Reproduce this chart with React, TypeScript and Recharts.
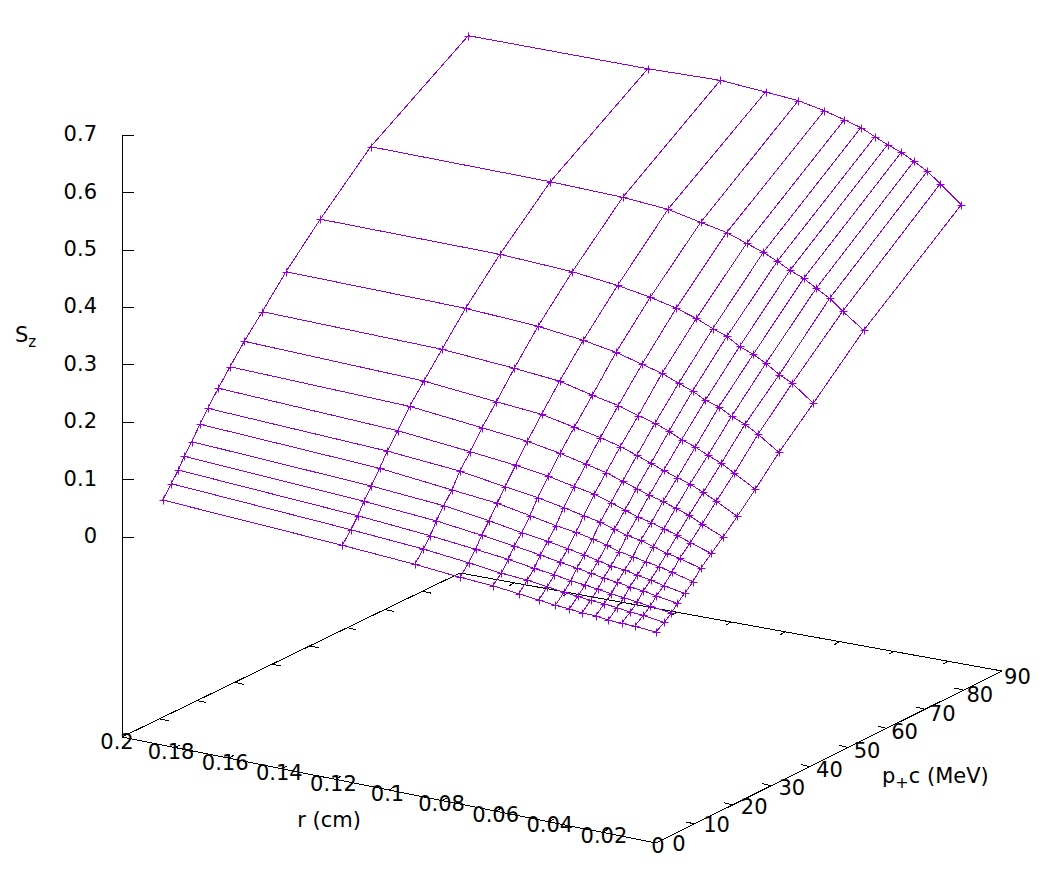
import React from 'react';
import { ScatterChart, Scatter, XAxis, YAxis, ReferenceLine } from 'recharts';

const rValues = [0.18476, 0.11749, 0.09037, 0.07341, 0.06116, 0.05142, 0.04393, 0.03772, 0.03247, 0.02772, 0.02258, 0.01787, 0.01285, 0.00798, 0.00011];
const pValues = [0, 2.24, 4.06, 5.62, 7.54, 9.7, 11.7, 14.46, 17.51, 21.23, 25.91, 32.07, 40.99, 54.1, 79.49];

// one row per entry of pValues, one column per entry of rValues
const szByP = [
  [0.0786, 0.0617, 0.0537, 0.0467, 0.0434, 0.0383, 0.0343, 0.0308, 0.0293, 0.0267, 0.0267, 0.0235, 0.0225, 0.0218, 0.019],
  [0.0995, 0.0814, 0.0728, 0.0646, 0.0575, 0.0547, 0.05, 0.046, 0.0439, 0.0413, 0.0401, 0.0375, 0.0347, 0.0334, 0.0284],
  [0.1172, 0.0997, 0.0899, 0.0819, 0.0758, 0.069, 0.0648, 0.0601, 0.0575, 0.0544, 0.0514, 0.0488, 0.046, 0.043, 0.0385],
  [0.1361, 0.1197, 0.1105, 0.1012, 0.0939, 0.0871, 0.0814, 0.0767, 0.0728, 0.069, 0.0662, 0.0624, 0.0601, 0.0559, 0.0503],
  [0.1551, 0.1399, 0.1307, 0.1202, 0.1106, 0.1045, 0.0986, 0.0934, 0.0883, 0.0834, 0.0812, 0.0763, 0.0728, 0.0674, 0.0613],
  [0.1782, 0.1636, 0.1509, 0.1434, 0.1331, 0.1246, 0.12, 0.1141, 0.1085, 0.1012, 0.0972, 0.0929, 0.0889, 0.0836, 0.0744],
  [0.1993, 0.1869, 0.1772, 0.1655, 0.1577, 0.1495, 0.1422, 0.1369, 0.1291, 0.123, 0.119, 0.1122, 0.1054, 0.1012, 0.0909],
  [0.2251, 0.2132, 0.2017, 0.1937, 0.1859, 0.177, 0.1706, 0.1618, 0.1533, 0.1463, 0.1406, 0.1345, 0.1277, 0.1193, 0.1077],
  [0.2524, 0.2455, 0.2333, 0.2253, 0.2157, 0.2056, 0.1981, 0.1885, 0.1808, 0.1733, 0.1676, 0.1599, 0.1523, 0.1416, 0.1261],
  [0.2843, 0.2772, 0.2662, 0.2599, 0.2486, 0.2397, 0.231, 0.2214, 0.2124, 0.2045, 0.1963, 0.1897, 0.18, 0.1688, 0.1498],
  [0.3204, 0.3169, 0.3089, 0.3021, 0.2889, 0.28, 0.2695, 0.2617, 0.2526, 0.2423, 0.2343, 0.2242, 0.215, 0.2021, 0.1814],
  [0.3695, 0.3678, 0.3615, 0.3528, 0.3432, 0.3314, 0.3225, 0.3108, 0.3023, 0.2904, 0.284, 0.2716, 0.2624, 0.2495, 0.2253],
  [0.4312, 0.4322, 0.427, 0.4186, 0.4094, 0.3993, 0.3883, 0.3765, 0.3679, 0.3545, 0.3456, 0.3343, 0.3192, 0.3087, 0.281],
  [0.5139, 0.515, 0.5129, 0.5077, 0.4963, 0.4875, 0.4756, 0.4657, 0.4549, 0.4436, 0.4343, 0.4213, 0.4085, 0.3904, 0.3645],
  [0.6228, 0.6273, 0.6322, 0.6275, 0.6237, 0.6152, 0.6064, 0.5983, 0.5875, 0.5779, 0.5693, 0.558, 0.5453, 0.5282, 0.4988],
];

const zTicks = [0, 0.1, 0.2, 0.3, 0.4, 0.5, 0.6, 0.7];
const rTicks = [0.2, 0.18, 0.16, 0.14, 0.12, 0.1, 0.08, 0.06, 0.04, 0.02, 0];
const pTicks = [0, 10, 20, 30, 40, 50, 60, 70, 80, 90];

const VIOLET = '#9400d3';
const FONT = '"DejaVu Sans"';

// fixed view of the 3d box, in page pixels
const project = (r: number, p: number, z: number) => {
  const u = (0.2 - r) / 0.2;
  const v = p / 90;
  return { x: 122 + u * 534 + v * 346, y: 537 + u * 106 - v * 172 - z * 574 };
};

// the floor frame does not close as a parallelogram, so go through its four corners
const floor = (r: number, p: number) => {
  const u = (0.2 - r) / 0.2;
  const v = p / 90;
  return {
    x: (1 - v) * ((1 - u) * 122 + u * 656) + v * ((1 - u) * 460 + u * 1002),
    y: (1 - v) * ((1 - u) * 737 + u * 843) + v * ((1 - u) * 573 + u * 671),
  };
};

const meshRows = pValues.map((p, j) => rValues.map((r, i) => project(r, p, szByP[j][i])));
const meshCols = rValues.map((r, i) => pValues.map((p, j) => project(r, p, szByP[j][i])));

const Plus = ({ cx, cy }: any) => {
  const x = Math.round(cx) + 0.5;
  const y = Math.round(cy) + 0.5;
  return <path d={`M${x - 4} ${y}H${x + 4}M${x} ${y - 4}V${y + 4}`} stroke={VIOLET} strokeWidth={1} fill="none" />;
};
const NoMark = () => <g />;

const lineStyle = { stroke: VIOLET, strokeWidth: 1, shapeRendering: 'crispEdges' };

const Seg = (a: { x: number; y: number }, b: { x: number; y: number }, key: string) => (
  <ReferenceLine key={key} segment={[a, b]} stroke="#000" strokeWidth={1} ifOverflow="visible" shapeRendering="crispEdges" />
);
const shift = (a: { x: number; y: number }, dx: number, dy: number) => ({ x: a.x + dx, y: a.y + dy });

const inner = (list: number[]) => list.slice(1, -1);

const frame = [
  Seg(project(0.2, 0, 0.7), floor(0.2, 0), 'zaxis'),
  Seg(floor(0.2, 0), floor(0, 0), 'front'),
  Seg(floor(0, 0), floor(0, 90), 'right'),
  Seg(floor(0, 90), floor(0.2, 90), 'back'),
  Seg(floor(0.2, 90), floor(0.2, 0), 'left'),
  ...zTicks.map((z) => Seg(project(0.2, 0, z), shift(project(0.2, 0, z), 12, 0), `zt${z}`)),
  ...inner(rTicks).map((r) => Seg(floor(r, 0), shift(floor(r, 0), 5, -3), `rf${r}`)),
  ...inner(rTicks).map((r) => Seg(floor(r, 90), shift(floor(r, 90), -5, 3), `rb${r}`)),
  ...inner(pTicks).map((p) => Seg(floor(0, p), shift(floor(0, p), -9, -2), `pf${p}`)),
  ...inner(pTicks).map((p) => Seg(floor(0.2, p), shift(floor(0.2, p), 9, 2), `pb${p}`)),
];

const textStyle = { fontFamily: FONT, fontSize: 21, fill: '#000' };

export default function App() {
  return (
    <div style={{ position: 'absolute', left: 0, top: 0 }}>
      <ScatterChart width={1056} height={878} margin={{ top: 0, right: 0, bottom: 0, left: 0 }}>
        <XAxis type="number" dataKey="x" domain={[0, 1056]} hide />
        <YAxis type="number" dataKey="y" domain={[0, 878]} reversed hide />
        {frame}
        {meshRows.map((row, j) => (
          <Scatter key={`row${j}`} data={row} line={lineStyle} shape={Plus} isAnimationActive={false} />
        ))}
        {meshCols.map((col, i) => (
          <Scatter key={`col${i}`} data={col} line={lineStyle} shape={NoMark} isAnimationActive={false} />
        ))}
        {zTicks.map((z) => (
          <text key={z} x={97} y={project(0.2, 0, z).y - 1} textAnchor="end" dominantBaseline="central" {...textStyle}>{z}</text>
        ))}
        {rTicks.map((r) => (
          <text key={r} x={658 - r * 2705} y={846 - r * 520} textAnchor="middle" dominantBaseline="central" {...textStyle}>{r}</text>
        ))}
        {pTicks.map((p) => (
          <text key={p} x={679 + p * 3.76} y={844 - p * 1.86} textAnchor="middle" dominantBaseline="central" {...textStyle}>{p}</text>
        ))}
        <text x={329} y={820} textAnchor="middle" dominantBaseline="central" {...textStyle}>r (cm)</text>
        <text x={882} y={783} {...textStyle}>
          p<tspan fontSize={16} dy={5}>+</tspan><tspan dy={-5}>c (MeV)</tspan>
        </text>
        <text x={15} y={342} {...textStyle}>
          S<tspan fontSize={15} dy={5}>z</tspan>
        </text>
      </ScatterChart>
    </div>
  );
}
